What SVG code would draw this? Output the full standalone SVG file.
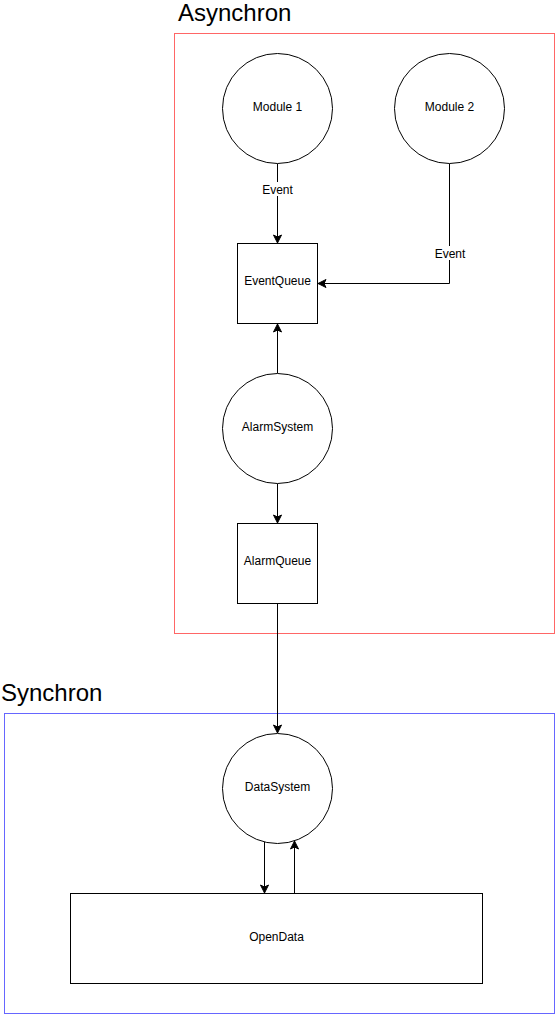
<svg xmlns="http://www.w3.org/2000/svg" width="555" height="1014" viewBox="0 0 555 1014">
<style>
.node{fill:#fff;stroke:#000;stroke-width:1}
.lbl{font-family:"Liberation Sans",Arial,sans-serif;font-size:12px;fill:#000;text-anchor:middle}
.title{font-family:"Liberation Sans",Arial,sans-serif;font-size:24px;fill:#000}
.edge{fill:none;stroke:#000;stroke-width:1}
</style>
<defs>
<marker id="arr" viewBox="0 0 10 10" refX="9" refY="5" markerWidth="10" markerHeight="10" markerUnits="userSpaceOnUse" orient="auto">
<path d="M1,1 L9,5 L1,9 L3,5 Z" fill="#000" stroke="#000" stroke-width="1"/>
</marker>
</defs>
<rect width="555" height="1014" fill="#fff"/>
<g id="asynchron">
<rect x="174.5" y="33.5" width="380" height="600" fill="none" stroke="#FF6666"/>
<text class="title" x="178" y="21">Asynchron</text>
</g>
<g id="synchron">
<rect x="4.5" y="713.5" width="550" height="300" fill="none" stroke="#6666FF"/>
<text class="title" x="1" y="701">Synchron</text>
</g>
<g id="edges">
<path class="edge" d="M277.5,163.5 V243" marker-end="url(#arr)"/>
<rect x="262" y="182" width="32" height="14" fill="#fff"/>
<text class="lbl" x="277.5" y="194">Event</text>
<path class="edge" d="M449.5,163.5 V283.5 H318" marker-end="url(#arr)"/>
<rect x="434" y="246" width="32" height="14" fill="#fff"/>
<text class="lbl" x="450" y="258">Event</text>
<path class="edge" d="M277.5,373.5 V324" marker-end="url(#arr)"/>
<path class="edge" d="M277.5,483.5 V523" marker-end="url(#arr)"/>
<path class="edge" d="M277.5,603.5 V733" marker-end="url(#arr)"/>
<path class="edge" d="M264.5,842 V893" marker-end="url(#arr)"/>
<path class="edge" d="M294.5,893 V841" marker-end="url(#arr)"/>
</g>
<g id="module1">
<circle class="node" cx="277.5" cy="108.5" r="55"/>
<text class="lbl" x="277.5" y="111">Module 1</text>
</g>
<g id="module2">
<circle class="node" cx="449.5" cy="108.5" r="55"/>
<text class="lbl" x="449.5" y="111">Module 2</text>
</g>
<g id="eventqueue">
<rect class="node" x="237.5" y="243.5" width="80" height="80"/>
<text class="lbl" x="277.5" y="285">EventQueue</text>
</g>
<g id="alarmsystem">
<circle class="node" cx="277.5" cy="428.5" r="55"/>
<text class="lbl" x="277.5" y="430.5">AlarmSystem</text>
</g>
<g id="alarmqueue">
<rect class="node" x="237.5" y="523.5" width="80" height="80"/>
<text class="lbl" x="277.5" y="565">AlarmQueue</text>
</g>
<g id="datasystem">
<circle class="node" cx="277.5" cy="788.5" r="55"/>
<text class="lbl" x="277.5" y="790.5">DataSystem</text>
</g>
<g id="opendata">
<rect class="node" x="70.5" y="893.5" width="412" height="90"/>
<text class="lbl" x="276.5" y="940.5">OpenData</text>
</g>
</svg>
